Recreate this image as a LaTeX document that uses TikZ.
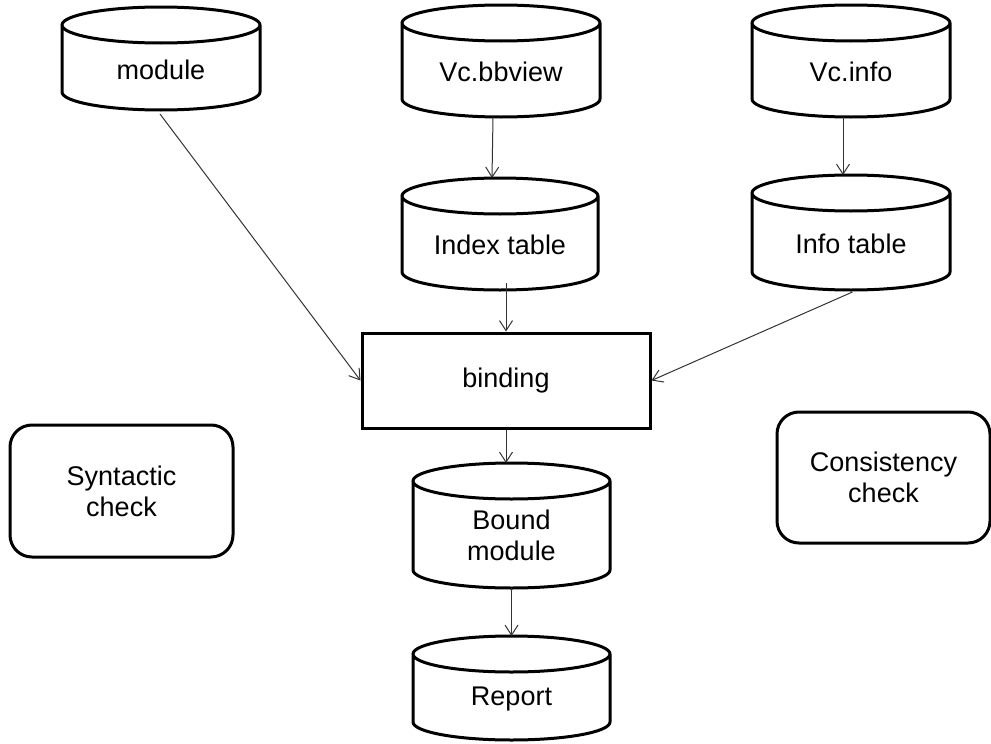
\documentclass[tikz,border=0pt]{standalone}
\usepackage{fontspec}
\setmainfont{Liberation Sans}
\usetikzlibrary{arrows.meta,calc}
\begin{document}
\begin{tikzpicture}[x=1pt,y=1pt,
  every node/.style={font=\fontsize{27}{31}\selectfont},
  dbstore/.style={inner sep=0pt, outer sep=0pt},
  dbtext/.style={align=center, inner sep=0pt, yshift=-11pt},
  dbline/.style={line width=3pt},
  procbox/.style={draw, line width=3pt, minimum width=288pt, minimum height=95pt},
  checkbox/.style={draw, line width=3pt, rounded corners=22pt, align=center},
  flow/.style={draw=black!80, line width=1pt, -{Straight Barb[length=10pt,width=13pt]}}]

\fill[white] (0,0) rectangle (991,-744);
\useasboundingbox (0,0) rectangle (991,-744);

% data stores (drawn as cylinders below)
\node[dbstore, minimum width=198pt, minimum height=103pt, label={[dbtext]center:module}] (module) at (161,-58.5) {};
\node[dbstore, minimum width=198pt, minimum height=112pt, label={[dbtext]center:Vc.bbview}] (bbview) at (501,-61) {};
\node[dbstore, minimum width=198pt, minimum height=112pt, label={[dbtext]center:Vc.info}] (vcinfo) at (851,-61) {};
\node[dbstore, minimum width=196pt, minimum height=112pt, label={[dbtext]center:Index table}] (idx) at (500,-234) {};
\node[dbstore, minimum width=198pt, minimum height=115pt, label={[dbtext]center:Info table}] (infotab) at (851,-232.5) {};
\node[dbstore, minimum width=197pt, minimum height=125pt, label={[dbtext,yshift=1pt]center:Bound\\module}] (bound) at (511.5,-525.5) {};
\node[dbstore, minimum width=197pt, minimum height=104pt, label={[dbtext]center:Report}] (report) at (511.5,-688) {};

\foreach \cyl in {module,bbview,vcinfo,idx,infotab,bound,report}{
  \draw[dbline] let \p1=(\cyl.north west), \p2=(\cyl.south east) in
    ({(\x1+\x2)/2},{\y1-18pt}) ellipse [x radius={(\x2-\x1)/2}, y radius=18pt]
    (\x1,{\y1-18pt}) -- (\x1,{\y2+18pt})
    arc [start angle=180, end angle=360, x radius={(\x2-\x1)/2}, y radius=18pt]
    -- (\x2,{\y1-18pt});
}

% process and check boxes
\node[procbox] (bind) at (506,-380.5) {binding};
\node[checkbox, minimum width=223pt, minimum height=132pt] (syn) at (121.5,-491) {Syntactic\\check};
\node[checkbox, minimum width=213pt, minimum height=131pt] (cons) at (883.5,-477.5) {Consistency\\check};

% data flow
\draw[flow, shorten <=5pt] ([xshift=-4pt]module.south) -- (bind.west);
\draw[flow] ([xshift=-8pt]bbview.south) -- ([xshift=-8pt]idx.north);
\draw[flow] ([xshift=-8pt]vcinfo.south) -- ([xshift=-8pt]infotab.north);
\draw[flow, shorten <=-7pt] (idx.south -| bind.north) -- (bind.north);
\draw[flow, shorten <=5pt] ([xshift=6pt]infotab.south) -- (bind.east);
\draw[flow] (bind.south) -- (bind.south |- bound.north);
\draw[flow] (bound.south) -- (report.north);
\end{tikzpicture}
\end{document}
